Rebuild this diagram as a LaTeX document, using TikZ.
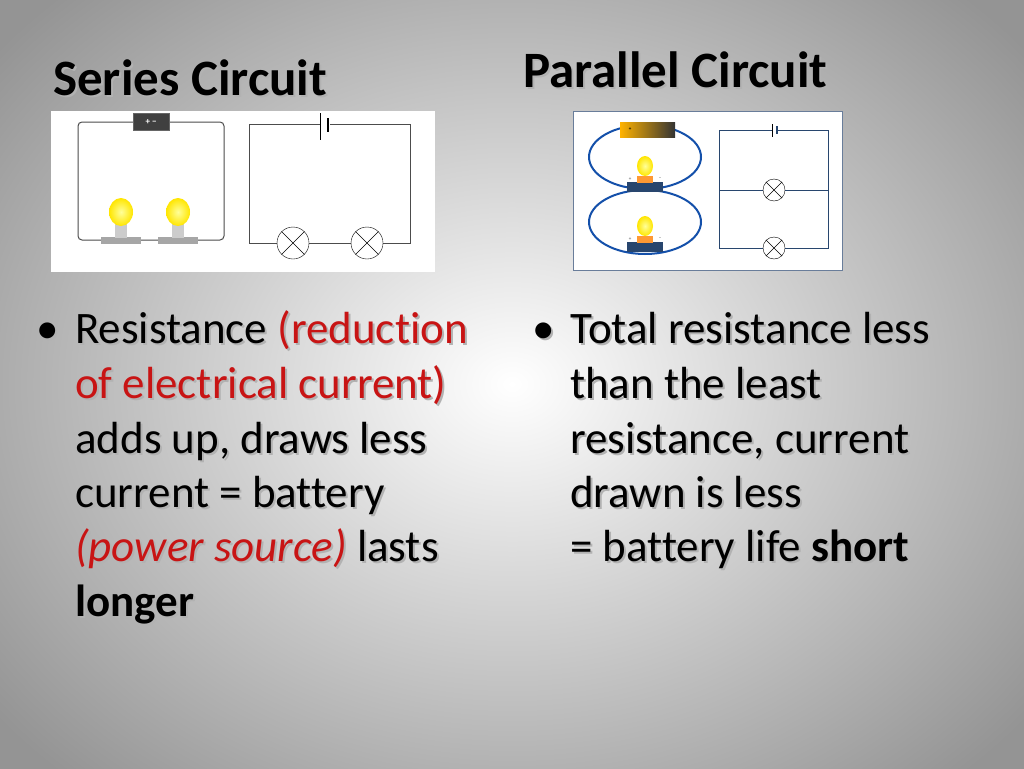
\documentclass[tikz,border=0pt]{standalone}
\usepackage{fontspec}
\setmainfont{Carlito}[Ligatures={NoCommon}]
\definecolor{red1}{RGB}{200,20,20}
\definecolor{wireb}{RGB}{20,80,170}
\definecolor{baseb}{RGB}{40,70,110}
\newcommand{\rc}[1]{\textcolor{\rcol}{#1}}
\usetikzlibrary{calc}
\begin{document}
\begin{tikzpicture}[x=1pt,y=-1pt,
  title/.style={anchor=base west,font=\bfseries\fontsize{51}{56}\selectfont,inner sep=0pt},
  body/.style={anchor=base west,font=\fontsize{45}{50}\selectfont,inner sep=0pt},
  lamp/.style={circle,draw=black,fill=white,minimum size=#1,inner sep=0pt},
  wire/.style={draw=black!70,line width=1pt}]
\useasboundingbox (0,0) rectangle (1024,768);
\shade[inner color=white,outer color=black!42] (-150,-150) rectangle (1174,918);
% Titles
\node[title,text=black!30] at (55,97) {Series Circuit};
\node[title] (st) at (53,95) {Series Circuit};
\node[title,text=black!30] at (525,89) {Parallel Circuit};
\node[title] (pt) at (523,87) {Parallel Circuit};
% Series picture
\fill[white] (51,111) rectangle (435,272);
\draw[wire,rounded corners=4] (78,122) rectangle (224,240);
\node[draw=black!60,fill=black!75,minimum width=36,minimum height=17,inner sep=0pt,text=white,font=\bfseries\small] (sb) at (151,122) {+ −};
\foreach \x/\n in {121/b1,178/b2}{
  \fill[gray!70] (\x-20,237) rectangle (\x+20,244);
  \fill[gray!40] (\x-6,224) rectangle (\x+6,238);
  \shade[inner color=yellow!40,outer color=yellow!80!orange] (\x,212) ellipse (12 and 14);
  \node (\n) at (\x,212) {};
}
\draw[wire] (320,124) -- (249,124) -- (249,243) -- (410,243) -- (410,124) -- (330,124);
\draw[line width=0.8pt] (320,113) -- (320,140);
\draw[line width=2.2pt] (328,118) -- (328,132);
\node[lamp=32pt] (l1) at (293,243) {};
\node[lamp=32pt] (l2) at (367,243) {};
\foreach \n in {l1,l2}{\draw (\n.north west) -- (\n.south east) (\n.north east) -- (\n.south west);}
% Parallel picture
\fill[white] (573,111) rectangle (842,270);
\draw[baseb!70,line width=1pt] (573,111) rectangle (842,270);
\draw[wireb,line width=2pt] (645,157) ellipse (56 and 32);
\draw[wireb,line width=2pt] (645,222) ellipse (56 and 32);
\shade[left color=orange!60!yellow,right color=black!80] (620,122) rectangle (675,137);
\node[font=\tiny\bfseries] (pb) at (630,129) {+};
\foreach \y in {0,60}{
  \fill[baseb] (627,182+\y) rectangle (663,192+\y);
  \fill[orange!80] (637,176+\y) rectangle (653,183+\y);
  \shade[inner color=yellow!40,outer color=yellow!80!orange] (645,166+\y) ellipse (8 and 10);
  \node[font=\tiny,text=black!70] at (630,179+\y) {+};
  \node[font=\tiny,text=black!70] at (660,179+\y) {−};
}
\draw[line width=0.8pt,baseb] (772,130) -- (719,130) -- (719,248) -- (828,248) -- (828,130) -- (777,130);
\draw[line width=0.8pt,baseb] (719,190) -- (828,190);
\draw[line width=0.8pt] (772,124) -- (772,137);
\draw[line width=2pt,baseb] (777,126) -- (777,134);
\node[lamp=22pt] (pl1) at (774,190) {};
\node[lamp=22pt] (pl2) at (774,248) {};
\foreach \n in {pl1,pl2}{\draw (\n.north west) -- (\n.south east) (\n.north east) -- (\n.south west);}
% Text
\begin{scope}[every node/.append style={body}]
\foreach \dx/\c/\r in {2/black!30/black!30,0/black/red1}{
\begin{scope}[xshift=\dx,yshift=-\dx,text=\c]
\def\rcol{\r}
\node at (36,343) {•};
\node at (75,343) {Resistance \rc{(reduction}};
\node at (75,398) {\rc{of electrical current)}};
\node at (75,453) {adds up, draws less};
\node at (75,507) {current = battery};
\node at (75,561) {\rc{\itshape (power source)} lasts};
\node at (75,616) {\bfseries longer};
\node at (532,343) {•};
\node at (570,343) {Total resistance less};
\node at (570,398) {than the least};
\node at (570,453) {resistance, current};
\node at (570,507) {drawn is less};
\node at (570,561) {= battery life \textbf{short}};
\end{scope}}
\end{scope}
\end{tikzpicture}
\end{document}
